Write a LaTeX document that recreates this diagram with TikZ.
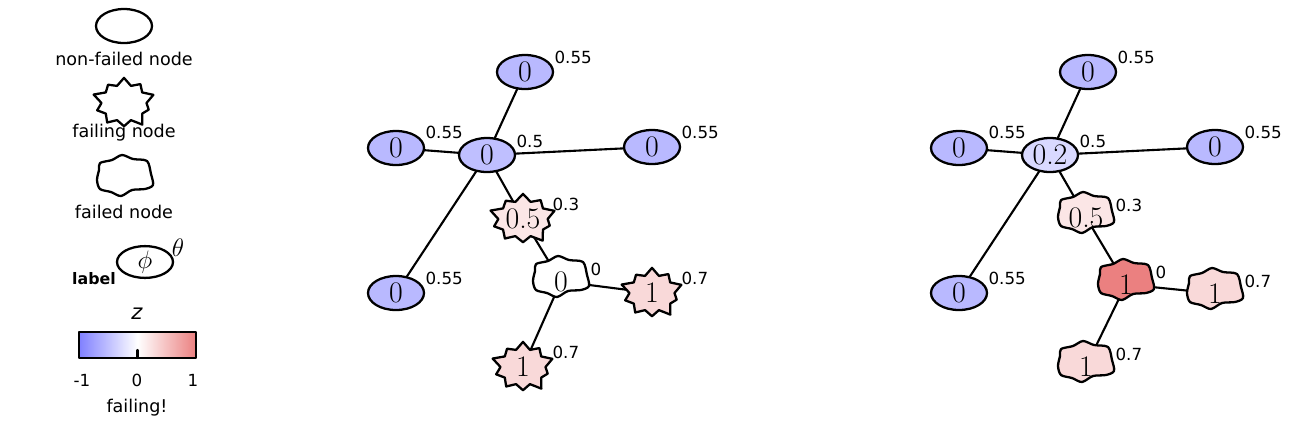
\documentclass[tikz,border=0pt]{standalone}
\usepackage{amsmath,amssymb}
\usepackage{fontspec}
\setsansfont{DejaVu Sans}
\usetikzlibrary{shapes.geometric,shapes.symbols,backgrounds}

\definecolor{zblue}{RGB}{128,128,255}
\definecolor{zred}{RGB}{235,128,128}

\begin{document}
\begin{tikzpicture}[x=0.02cm, y=-0.02cm, line join=round, line cap=round,
	every node/.style={line width=1.3pt},
	ok/.style={draw, ellipse, minimum width=1.12cm, minimum height=0.68cm, inner sep=0pt, font=\fontsize{17}{17}\selectfont},
	failing/.style={draw, starburst, starburst points=10, starburst point height=0.2cm, minimum width=1.3cm, minimum height=1.12cm, inner sep=0pt, font=\fontsize{17}{17}\selectfont},
	failed/.style={ellipse, minimum width=1.14cm, minimum height=0.84cm, inner sep=0pt, yshift=-2.5pt, font=\fontsize{17}{17}\selectfont},
	blob/.pic={\draw[pic actions, line width=1.3pt] plot[smooth cycle, tension=0.5] coordinates {
		(-25,-13) (-13,-16) (-3,-21) (8,-17) (22,-15) (26,-2) (28,9) (20,13)
		(7,14) (-4,20) (-14,16) (-25,13) (-28,4) (-26,-6)};},
	lbl/.style={font=\sffamily\fontsize{9.5}{9.5}\selectfont, inner sep=0pt, anchor=base west},
	note/.style={font=\sffamily\fontsize{10}{10}\selectfont, inner sep=0pt},
	link/.style={line width=1.2pt}]
	\useasboundingbox (0,0) rectangle (1306,424);

	% Chú thích
	\node[ok] (lok) at (124,26) {};
	\node[note] (tok) at (124,59) {non-failed node};
	\node[failing] (lfailing) at (124,103) {};
	\node[note] (tfailing) at (124,133) {failing node};
	\pic at (125,176) {blob};
	\node[failed] (lfailed) at (125,176) {};
	\node[note] (tfailed) at (124,212) {failed node};
	\node[ok, minimum height=0.62cm, font=\fontsize{14}{14}\selectfont] (lphi) at (145,262) {$\phi$};
	\node[font=\fontsize{14}{14}\selectfont, inner sep=0pt] (ltheta) at (178,248) {$\theta$};
	\node[font=\sffamily\bfseries\fontsize{9}{9}\selectfont, inner sep=0pt] (llabel) at (94,279) {label};

	% Thang màu z
	\node[font=\sffamily\itshape\fontsize{12}{12}\selectfont, inner sep=0pt] (zname) at (137,314) {z};
	\shade[left color=zblue, right color=zred, middle color=white] (79,332) rectangle (196,358);
	\draw[line width=1.3pt] (79,332) rectangle (196,358);
	\draw[line width=1.2pt] (137.5,358) -- (137.5,350);
	\foreach \v/\x in {-1/82, 0/137, 1/193}
		\node[font=\sffamily\fontsize{9.5}{9.5}\selectfont, inner sep=0pt] (z\x) at (\x,380) {\v};
	\node[note] (zfail) at (137,408) {failing!};

	% Các nút ngoài (hai đồ thị)
	\foreach \g/\dx in {1/0, 2/563} {
		\foreach \n/\x/\y in {t/525/72, l/396/148, r/652/147, b/396/293}
			\node[ok, fill=zblue!55!white] (\n\g) at (\x+\dx,\y) {0};
	}

	% Đồ thị trước
	\node[ok, fill=zblue!50!white] (c1) at (487,155) {0};
	\node[failing, fill=zred!20!white] (h1) at (523,219) {0.5};
	\pic[fill=white] at (561,277) {blob};
	\node[failed] (f1) at (561,277) {0};
	\node[failing, fill=zred!30!white] (e1) at (652,293) {1};
	\node[failing, fill=zred!30!white] (s1) at (523,367) {1};

	% Đồ thị sau
	\node[ok, fill=zblue!30!white] (c2) at (1050,155) {0.2};
	\foreach \n/\x/\y/\z/\t in {h/1086/213/20/0.5, f/1126/280/100/1, e/1215/289/30/1, s/1086/362/30/1} {
		\pic[fill=zred!\z!white] at (\x,\y) {blob};
		\node[failed] (\n2) at (\x,\y) {\t};
	}

	% Nhãn theta
	\foreach \n/\t/\dy in {t1/0.55/4.6, l1/0.55/5.4, r1/0.55/4.6, b1/0.55/4.6, c1/0.5/4.2,
			h1/0.3/4.6, f1/0/3.4, e1/0.7/4.6, s1/0.7/5,
			t2/0.55/4.6, l2/0.55/5.4, r2/0.55/4.6, b2/0.55/4.6, c2/0.5/4.2,
			h2/0.3/3.4, f2/0/3.4, e2/0.7/3.4, s2/0.7/3.4}
		\node[lbl] (th\n) at ([xshift=16.2pt, yshift=\dy pt]\n.center) {\t};

	% Cạnh
	\begin{scope}[on background layer]
	\foreach \g in {1,2}
		\draw[link] (c\g.center) -- (t\g.center) (c\g.center) -- (l\g.center)
			(c\g.center) -- (r\g.center) (c\g.center) -- (b\g.center)
			(c\g.center) -- (h\g.center) (h\g.center) -- (f\g.center)
			(f\g.center) -- (e\g.center) (f\g.center) -- (s\g.center);
	\end{scope}
\end{tikzpicture}
\end{document}
